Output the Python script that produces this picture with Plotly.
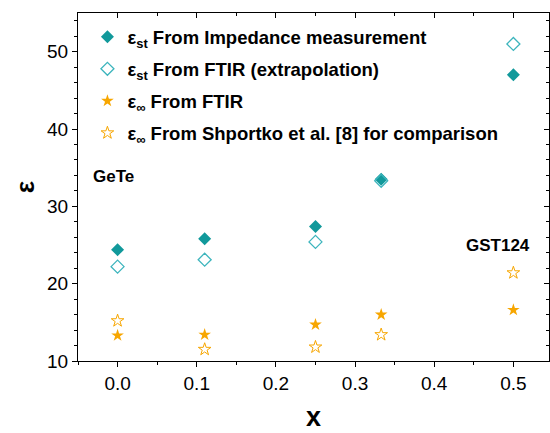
import plotly.graph_objects as go

x_vals = [0.0, 0.11, 0.25, 0.333, 0.5]
eps_st_impedance = [24.4, 25.8, 27.4, 33.5, 47.0]
eps_st_ftir = [22.2, 23.1, 25.4, 33.3, 51.0]
eps_inf_ftir = [13.3, 13.4, 14.7, 16.0, 16.6]
eps_inf_shportko = [15.2, 11.5, 11.8, 13.4, 21.4]

series_names = [
    "<b>ε<sub>st</sub> From Impedance measurement</b>",
    "<b>ε<sub>st</sub> From FTIR (extrapolation)</b>",
    "<b>ε<sub>∞</sub> From FTIR</b>",
    "<b>ε<sub>∞</sub> From Shportko et al. [8] for comparison</b>",
]

TEAL = "#11999b"
TEAL_LIGHT = "#3db5bd"
ORANGE = "#f7a600"

fig = go.Figure()
fig.add_trace(go.Scatter(x=x_vals, y=eps_st_impedance, mode="markers", name=series_names[0], legendgroup="a",
                         marker=dict(symbol="diamond", size=10, color=TEAL, line=dict(width=0))))
fig.add_trace(go.Scatter(x=x_vals, y=eps_st_ftir, mode="markers", name=series_names[1], legendgroup="b",
                         marker=dict(symbol="diamond-open", size=10, color=TEAL_LIGHT, line=dict(width=1.3))))
fig.add_trace(go.Scatter(x=x_vals, y=eps_inf_ftir, mode="markers", name=series_names[2], legendgroup="c",
                         marker=dict(symbol="star", size=9.5, color=ORANGE, line=dict(width=0))))
fig.add_trace(go.Scatter(x=x_vals, y=eps_inf_shportko, mode="markers", name=series_names[3], legendgroup="d",
                         marker=dict(symbol="star-open", size=9.5, color=ORANGE, line=dict(width=1))))

xr = [-0.05, 0.545]
yr = [10, 55]
font_family = "Liberation Sans, Arial, sans-serif"

fig.update_layout(
    width=550, height=433,
    margin=dict(l=78, r=1, t=13, b=72),
    paper_bgcolor="white", plot_bgcolor="white",
    font=dict(family=font_family, color="black"),
    showlegend=True,
    legend=dict(x=0.02, y=0.985, xanchor="left", yanchor="top",
                bgcolor="rgba(0,0,0,0)", font=dict(size=18.5, color="black"),
                tracegroupgap=5, itemsizing="trace"),
    xaxis=dict(range=xr, showgrid=False, zeroline=False, showline=True, linecolor="black", linewidth=1,
               ticks="outside", ticklen=5, tickwidth=1, tickcolor="black",
               tickmode="array", tickvals=[0, 0.1, 0.2, 0.3, 0.4, 0.5],
               ticktext=["0.0", "0.1", "0.2", "0.3", "0.4", "0.5"],
               tickfont=dict(size=19),
               minor=dict(dtick=0.05, tick0=0, ticks="outside", ticklen=3, tickcolor="black", showgrid=False),
               title=dict(text="<b>x</b>", font=dict(size=27), standoff=14)),
    yaxis=dict(range=yr, showgrid=False, zeroline=False, showline=True, linecolor="black", linewidth=1,
               ticks="outside", ticklen=5, tickwidth=1, tickcolor="black",
               tickmode="array", tickvals=[10, 20, 30, 40, 50],
               tickfont=dict(size=19),
               minor=dict(dtick=2, tick0=10, ticks="outside", ticklen=3, tickcolor="black", showgrid=False),
               title=dict(text="<b>ε</b>", font=dict(size=26), standoff=4)),
    xaxis2=dict(range=xr, overlaying="x", side="top", showgrid=False, zeroline=False, showline=True,
                linecolor="black", linewidth=1, ticks="inside", ticklen=5, tickcolor="black",
                tickmode="array", tickvals=[0, 0.1, 0.2, 0.3, 0.4, 0.5], showticklabels=False,
                minor=dict(dtick=0.05, tick0=0, ticks="inside", ticklen=3, tickcolor="black", showgrid=False)),
    yaxis2=dict(range=yr, overlaying="y", side="right", showgrid=False, zeroline=False, showline=True,
                linecolor="black", linewidth=1, ticks="inside", ticklen=5, tickcolor="black",
                tickmode="array", tickvals=[10, 20, 30, 40, 50], showticklabels=False,
                minor=dict(dtick=2, tick0=10, ticks="inside", ticklen=3, tickcolor="black", showgrid=False)),
)

# invisible helper trace so the mirrored axes get drawn
fig.add_trace(go.Scatter(x=[xr[0]], y=[yr[0]], xaxis="x2", yaxis="y2", mode="markers",
                         marker=dict(opacity=0), showlegend=False, hoverinfo="skip"))

fig.add_annotation(x=-0.005, y=33.8, xref="x", yref="y", text="<b>GeTe</b>", showarrow=False,
                   font=dict(size=17, color="black"))
fig.add_annotation(x=0.48, y=25.0, xref="x", yref="y", text="<b>GST124</b>", showarrow=False,
                   font=dict(size=17, color="black"))

fig.write_html("out.html")
